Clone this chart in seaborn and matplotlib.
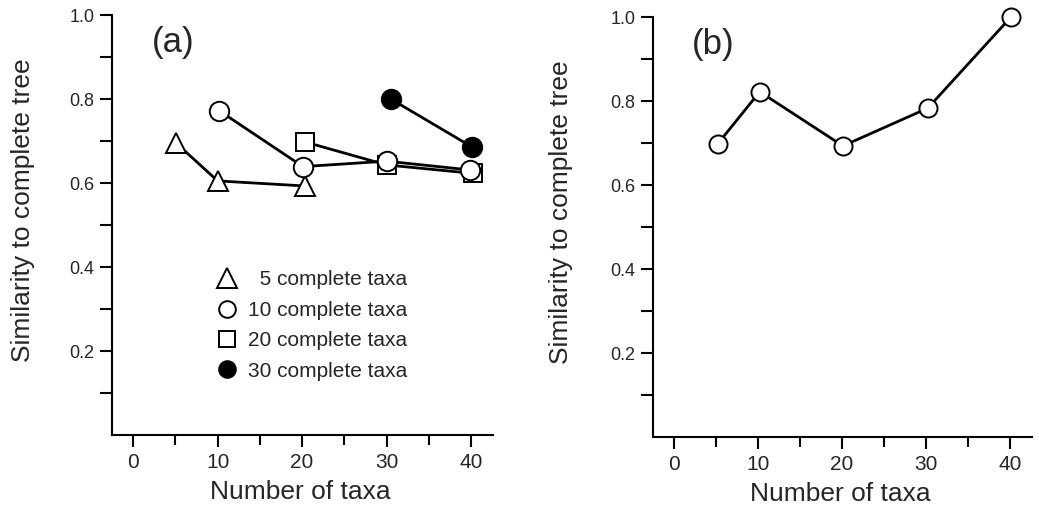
import matplotlib
matplotlib.use("Agg")
import matplotlib.pyplot as plt
import seaborn as sns
from matplotlib.lines import Line2D
from matplotlib.ticker import FixedLocator

# ---- data ----
tri_x = [5.1, 10.0, 20.3]
tri_y = [0.695, 0.605, 0.593]
circ_x = [10.2, 20.1, 30.0, 39.9]
circ_y = [0.772, 0.639, 0.652, 0.631]
sq_x = [20.3, 30.0, 40.2]
sq_y = [0.698, 0.643, 0.623]
fill_x = [30.5, 40.1]
fill_y = [0.800, 0.686]
b_x = [5.2, 10.2, 20.1, 30.2, 40.1]
b_y = [0.698, 0.822, 0.693, 0.783, 1.000]

legend_labels = ["\u20075 complete taxa", "10 complete taxa", "20 complete taxa", "30 complete taxa"]
x_ticks = [0, 10, 20, 30, 40]
x_minor = [5, 15, 25, 35]
y_ticks = [0.2, 0.4, 0.6, 0.8, 1.0]
y_minor = [0.1, 0.3, 0.5, 0.7, 0.9]
xlabel = "Number of taxa"
ylabel = "Similarity to complete tree"

sns.set_style("ticks")
plt.rcParams["font.family"] = ["Liberation Sans", "DejaVu Sans"]

fig = plt.figure(figsize=(10.39, 5.07), dpi=100)
axA = fig.add_axes([112/1039, 1-435/507, 381/1039, 420/507])
axB = fig.add_axes([653/1039, 1-437/507, 379/1039, 420/507])

LW = 2.0
MEW = 1.4
common = dict(color="black", linewidth=LW, markeredgecolor="black", markeredgewidth=MEW)

sns.lineplot(x=tri_x, y=tri_y, ax=axA, marker="^", markersize=15, markerfacecolor="white", zorder=3, **common)
sns.lineplot(x=sq_x, y=sq_y, ax=axA, marker="s", markersize=13, markerfacecolor="white", zorder=3, **common)
sns.lineplot(x=circ_x, y=circ_y, ax=axA, marker="o", markersize=14, markerfacecolor="white", zorder=4, **common)
sns.lineplot(x=fill_x, y=fill_y, ax=axA, marker="o", markersize=14, markerfacecolor="black", zorder=4, **common)

sns.lineplot(x=b_x, y=b_y, ax=axB, marker="o", markersize=13, markerfacecolor="white", zorder=4, clip_on=False, **common)

for ax, tag, lx, lyl in [(axA, "(a)", -0.202, 0.536), (axB, "(b)", -0.211, 0.536)]:
    ax.set_xlim(-2.5, 42.6)
    ax.set_ylim(0, 1.0)
    ax.set_xticks(x_ticks)
    ax.set_yticks(y_ticks)
    ax.xaxis.set_minor_locator(FixedLocator(x_minor))
    ax.yaxis.set_minor_locator(FixedLocator(y_minor))
    ax.set_xticklabels([str(v) for v in x_ticks], fontsize=15)
    ax.set_yticklabels([f"{v:.1f}" for v in y_ticks], fontsize=13)
    ax.tick_params(axis="both", which="major", direction="out", length=8.8, width=1.5, color="black")
    ax.tick_params(axis="y", which="minor", direction="out", length=8.5, width=1.5, color="black")
    ax.tick_params(axis="x", which="minor", direction="out", length=7, width=1.5, color="black")
    ax.tick_params(axis="y", which="major", pad=4)
    ax.tick_params(axis="x", which="major", pad=4)
    for s in ["top", "right"]:
        ax.spines[s].set_visible(False)
    for s in ["left", "bottom"]:
        ax.spines[s].set_linewidth(1.5)
        ax.spines[s].set_color("black")
    ax.set_xlabel(xlabel, fontsize=19)
    ax.set_ylabel(ylabel, fontsize=19)
    ax.yaxis.set_label_coords(lx, lyl)
    ax.xaxis.set_label_coords(0.493, -0.108)
    ax.text(4.7, 0.935, tag, fontsize=25, ha="center", va="center")

handles = [
    Line2D([], [], linestyle="none", marker="^", markersize=15, markerfacecolor="white", markeredgecolor="black", markeredgewidth=MEW),
    Line2D([], [], linestyle="none", marker="o", markersize=12, markerfacecolor="white", markeredgecolor="black", markeredgewidth=MEW),
    Line2D([], [], linestyle="none", marker="s", markersize=12, markerfacecolor="white", markeredgecolor="black", markeredgewidth=MEW),
    Line2D([], [], linestyle="none", marker="o", markersize=12, markerfacecolor="black", markeredgecolor="black", markeredgewidth=MEW),
]
axA.legend(handles=handles, labels=legend_labels, loc="upper left", bbox_to_anchor=(0.2745, 0.392),
           frameon=False, fontsize=15, handlelength=1.0, handletextpad=0.5, labelspacing=0.55, borderpad=0,
           borderaxespad=0)

fig.savefig("out.png", dpi=100)
